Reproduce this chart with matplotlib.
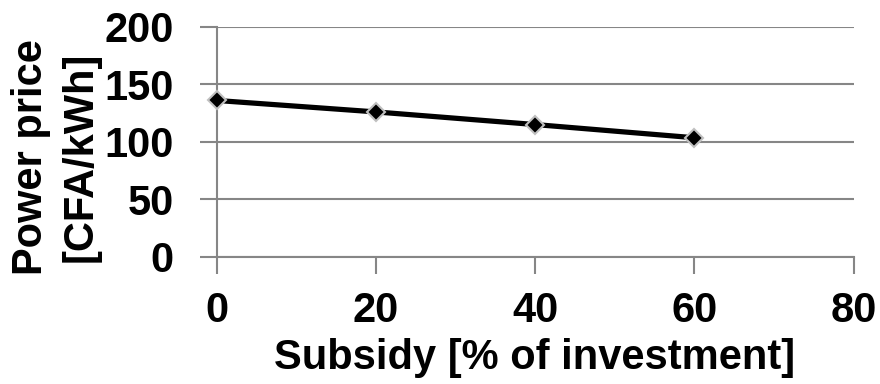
import matplotlib
matplotlib.use("Agg")
import matplotlib.pyplot as plt

# Subsidy share of investment vs resulting power price
subsidy = [0, 20, 40, 60]
price = [136, 126, 115, 103.5]

x_ticks = [0, 20, 40, 60, 80]
y_ticks = [0, 50, 100, 150, 200]

plt.rcParams["font.family"] = ["Liberation Sans", "DejaVu Sans"]
plt.rcParams["font.weight"] = "bold"

fig = plt.figure(figsize=(8.8, 3.84), dpi=100)
ax = fig.add_axes([216.5 / 880, 1 - 256.5 / 384, (853.5 - 216.5) / 880, (256.5 - 27) / 384])

ax.plot(subsidy, price, color="black", lw=3.75, marker="D", ms=9,
        mfc="black", mec="#C0C0C0", mew=1.5, zorder=3, clip_on=False)

ax.set_xlim(0, 80)
ax.set_ylim(0, 200)
ax.set_xticks(x_ticks)
ax.set_yticks(y_ticks)
ax.yaxis.grid(True, color="#868686", lw=1.5)
ax.set_axisbelow(True)
for s in ["top", "right"]:
    ax.spines[s].set_visible(False)
for s in ["left", "bottom"]:
    ax.spines[s].set_color("#868686")
    ax.spines[s].set_linewidth(1.5)
ax.tick_params(axis="both", direction="out", length=12, width=1.5, color="#868686",
               labelsize=30)
ax.tick_params(axis="y", pad=19)
ax.tick_params(axis="x", pad=13)
for lab in ax.get_xticklabels() + ax.get_yticklabels():
    lab.set_fontweight("bold")

ax.set_xlabel("Subsidy [% of investment]", fontsize=30, fontweight="bold", va="baseline")
ax.xaxis.set_label_coords(0.5, (256.5 - 369) / 229.5)
ax.set_ylabel("Power price\n[CFA/kWh]", fontsize=30, fontweight="bold", va="center",
              linespacing=1.3)
ax.yaxis.set_label_coords((56 - 216.5) / 637, (256.5 - 157) / 229.5)

fig.savefig("out.png", dpi=100)
